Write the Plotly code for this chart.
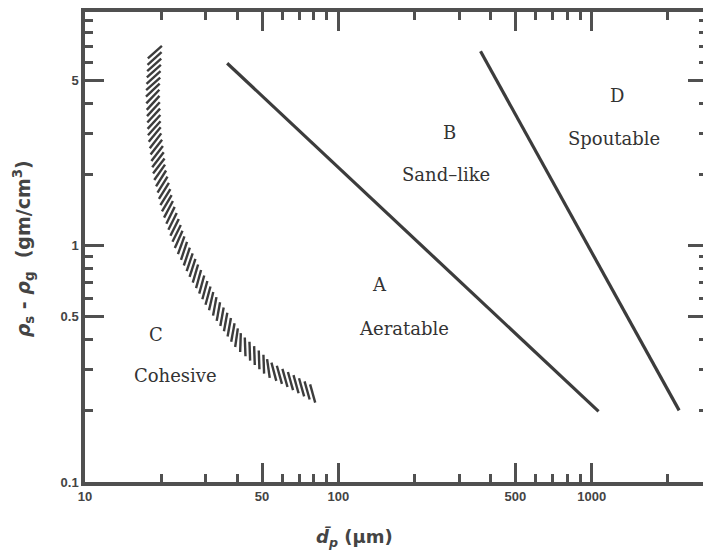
import numpy as np
import plotly.graph_objects as go

# ---------------- data ----------------
# A/B boundary (straight line in log-log)
ab_dp = [36.4, 1064]
ab_rho = [5.93, 0.199]
# B/D boundary
bd_dp = [364, 2213]
bd_rho = [6.66, 0.201]
# C/A boundary (hatched band), centre line
ca_dp = [18.9, 18.5, 18.8, 19.7, 21.2, 23.6, 27.0, 31.5, 40.5, 53.2, 82.0]
ca_rho = [6.8, 4.44, 3.01, 2.05, 1.46, 1.04, 0.778, 0.582, 0.395, 0.301, 0.232]

x_major = [10, 50, 100, 500, 1000]
x_major_text = ["10", "50", "100", "500", "1000"]
x_minor = [20, 30, 40, 60, 70, 80, 90, 200, 300, 400, 600, 700, 800, 900, 2000]
y_major = [0.1, 0.5, 1, 5]
y_major_text = ["0.1", "0.5", "1", "5"]
y_minor = [0.2, 0.3, 0.4, 0.6, 0.7, 0.8, 0.9, 2, 3, 4, 6, 7, 8, 9]

region_letters = ["A", "B", "C", "D"]
region_names = ["Aeratable", "Sand\u2013like", "Cohesive", "Spoutable"]

# ---------------- layout geometry ----------------
# the page body adds an 8 px margin, so the figure is 8 px smaller
W, H = 703, 551
ml, mr, mt, mb = 77, 0, 0, 77
xr = [1.0, 3.455]
yr = [-1.0, 0.99]
pw = W - ml - mr
ph = H - mt - mb
sx = pw / (xr[1] - xr[0])
sy = ph / (yr[1] - yr[0])

ink = "#3c3c3c"
axis_col = "#505050"

# hatch strokes along the C/A band, built in screen-proportional log space
px = (np.log10(ca_dp) - xr[0]) * sx
py = (np.log10(ca_rho) - yr[0]) * sy
seg = np.hypot(np.diff(px), np.diff(py))
s = np.concatenate([[0], np.cumsum(seg)])
ss = np.arange(3, s[-1] - 1, 6.4)
qx = np.interp(ss, s, px)
qy = np.interp(ss, s, py)
tx = np.gradient(qx)
ty = np.gradient(qy)
nn = np.hypot(tx, ty)
tx, ty = tx / nn, ty / nn
ang = np.deg2rad(-45)
dx = tx * np.cos(ang) - ty * np.sin(ang)
dy = tx * np.sin(ang) + ty * np.cos(ang)
half = 9.5
hx, hy = [], []
for cx, cy, ux, uy in zip(qx, qy, dx, dy):
    for k in (-1, 1):
        hx.append(10 ** (xr[0] + (cx + k * half * ux) / sx))
        hy.append(10 ** (yr[0] + (cy + k * half * uy) / sy))
    hx.append(None)
    hy.append(None)

fig = go.Figure()
fig.add_trace(go.Scatter(x=hx, y=hy, mode="lines",
                         line=dict(color=ink, width=2.4),
                         hoverinfo="skip", showlegend=False))
fig.add_trace(go.Scatter(x=ab_dp, y=ab_rho, mode="lines",
                         line=dict(color=ink, width=3.2), showlegend=False))
fig.add_trace(go.Scatter(x=bd_dp, y=bd_rho, mode="lines",
                         line=dict(color=ink, width=3.2), showlegend=False))

# region labels (paper positions from reference pixel positions)
def pxy(x, y):
    return (x - 85) / pw, (482 - y) / ph

letter_pos = [(381, 283), (452, 130), (156, 333), (620, 92)]
name_pos = [(406, 327), (448, 172), (176, 375), (617, 136)]
serif = dict(family="DejaVu Serif", size=18, color="#333333")
for t, (x, y) in zip(region_letters, letter_pos):
    ax_, ay_ = pxy(x, y)
    fig.add_annotation(x=ax_, y=ay_, xref="paper", yref="paper", text=t,
                       xanchor="center", yanchor="middle",
                       showarrow=False, font=serif)
for t, (x, y) in zip(region_names, name_pos):
    ax_, ay_ = pxy(x, y)
    fig.add_annotation(x=ax_, y=ay_, xref="paper", yref="paper", text=t,
                       xanchor="center", yanchor="middle",
                       showarrow=False, font=serif)

# axis titles
tfont = dict(family="DejaVu Sans", size=18, color="#444444", weight="bold")
ax_, ay_ = pxy(356, 538)
fig.add_annotation(x=ax_, y=ay_, xref="paper", yref="paper",
                   text="<i>d\u0304</i><sub><i>p</i></sub> (\u03bcm)",
                   xanchor="center", yanchor="middle",
                   showarrow=False, font=tfont)
ax_, ay_ = pxy(24, 247)
fig.add_annotation(x=ax_, y=ay_, xref="paper", yref="paper",
                   text="<i>\u03c1</i><sub>s</sub>\u00a0-\u00a0<i>\u03c1</i><sub>g</sub>\u00a0\u00a0(gm/cm<sup>3</sup>)",
                   xanchor="center", yanchor="middle",
                   textangle=-90, showarrow=False,
                   font=dict(tfont, size=19))

tickfont = dict(family="Liberation Sans", size=13, color="#444444", weight="bold")
common = dict(type="log", showgrid=False, zeroline=False, showline=True,
              linewidth=3.5, linecolor=axis_col, mirror="ticks",
              ticks="inside", ticklen=19, tickwidth=2.5, tickcolor=axis_col,
              tickfont=tickfont, tickmode="array")

fig.update_xaxes(range=xr, tickvals=x_major, ticktext=x_major_text,
                 minor=dict(tickmode="array", tickvals=x_minor, ticks="inside",
                            ticklen=8, tickwidth=2.5, tickcolor=axis_col,
                            showgrid=False),
                 **common)
fig.update_yaxes(range=yr, tickvals=y_major, ticktext=y_major_text,
                 minor=dict(tickmode="array", tickvals=y_minor, ticks="inside",
                            ticklen=8, tickwidth=2.5, tickcolor=axis_col,
                            showgrid=False),
                 **common)

fig.update_layout(width=W, height=H,
                  margin=dict(l=ml, r=mr, t=mt, b=mb),
                  plot_bgcolor="white", paper_bgcolor="white",
                  showlegend=False)

fig.write_html("out.html")
